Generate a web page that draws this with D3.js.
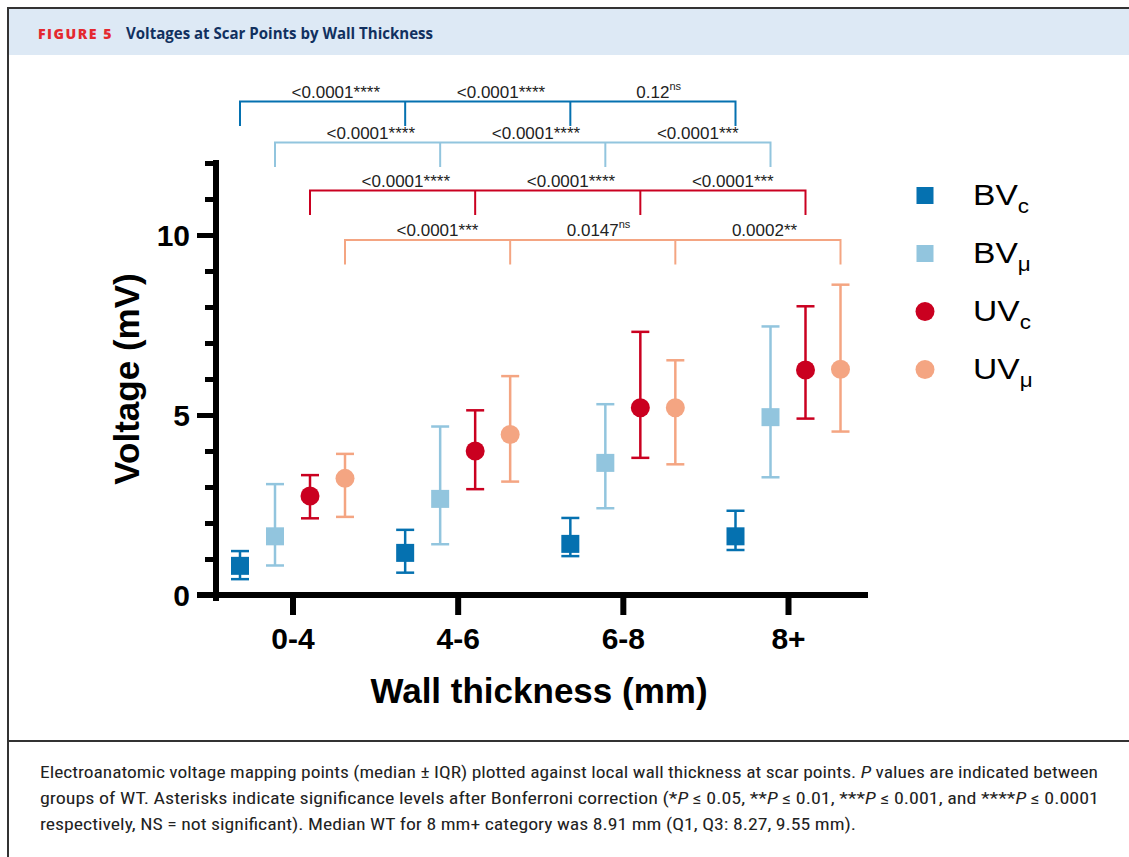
<!DOCTYPE html>
<html>
<head>
<meta charset="utf-8">
<script src="https://cdn.jsdelivr.net/npm/d3@7"></script>
<style>
  html, body { margin: 0; padding: 0; background: #fff; overflow: hidden; }
  svg { display: block; }
</style>
</head>
<body>
<svg id="chart" width="1129" height="857"></svg>
<script>
// ---------------- data ----------------
const categories = ["0-4", "4-6", "6-8", "8+"];
const seriesKeys = ["BVc", "BVu", "UVc", "UVu"];
const seriesMain = ["BV", "BV", "UV", "UV"];
const seriesSub = ["c", "μ", "c", "μ"];

const bvcMedian = [0.81, 1.17, 1.42, 1.63];
const bvcLow    = [0.44, 0.62, 1.08, 1.25];
const bvcHigh   = [1.22, 1.81, 2.14, 2.34];

const bvuMedian = [1.63, 2.67, 3.67, 4.94];
const bvuLow    = [0.82, 1.41, 2.41, 3.27];
const bvuHigh   = [3.08, 4.68, 5.30, 7.46];

const uvcMedian = [2.75, 4.00, 5.20, 6.25];
const uvcLow    = [2.13, 2.94, 3.81, 4.90];
const uvcHigh   = [3.33, 5.13, 7.31, 8.02];

const uvuMedian = [3.24, 4.46, 5.20, 6.27];
const uvuLow    = [2.17, 3.15, 3.63, 4.54];
const uvuHigh   = [3.92, 6.08, 6.52, 8.62];

// p-values between adjacent WT groups for each series
const bvcP = ["<0.0001", "<0.0001", "0.12"];
const bvcSig = ["****", "****", "ns"];
const bvuP = ["<0.0001", "<0.0001", "<0.0001"];
const bvuSig = ["****", "****", "***"];
const uvcP = ["<0.0001", "<0.0001", "<0.0001"];
const uvcSig = ["****", "****", "***"];
const uvuP = ["<0.0001", "0.0147", "0.0002"];
const uvuSig = ["***", "ns", "**"];

const yTickValues = d3.range(0, 13);
const yLabelledTicks = [0, 5, 10];

const titleLabel = "FIGURE 5";
const titleText = "Voltages at Scar Points by Wall Thickness";
const xTitle = "Wall thickness (mm)";
const yTitle = "Voltage (mV)";

// ---------------- styles / layout ----------------
const colors = ["#0571b0", "#92c5de", "#ca0020", "#f4a582"];
const shapes = ["square", "square", "circle", "circle"];
const bracketRows = [101.5, 142.5, 190.5, 240];   // pixel rows of the brackets
const bracketDrop = 24.5;
const FONT = "'Liberation Sans', Arial, sans-serif";

const series = seriesKeys.map((k, i) => ({
  key: k,
  color: colors[i],
  shape: shapes[i],
  median: [bvcMedian, bvuMedian, uvcMedian, uvuMedian][i],
  low: [bvcLow, bvuLow, uvcLow, uvuLow][i],
  high: [bvcHigh, bvuHigh, uvcHigh, uvuHigh][i],
  p: [bvcP, bvuP, uvcP, uvuP][i],
  sig: [bvcSig, bvuSig, uvcSig, uvuSig][i],
  row: bracketRows[i]
}));

const svg = d3.select("#chart");

// ---------------- frame & header ----------------
svg.append("rect").attr("x", 0).attr("y", 0).attr("width", 1129).attr("height", 857).attr("fill", "#fff");
svg.append("rect").attr("x", 9).attr("y", 9).attr("width", 1120).attr("height", 46)
  .attr("fill", "#dde9f5");
svg.append("line").attr("x1", 8).attr("x2", 1129).attr("y1", 8).attr("y2", 8)
  .attr("stroke", "#333").attr("stroke-width", 2);
svg.append("line").attr("x1", 8).attr("x2", 8).attr("y1", 7).attr("y2", 857)
  .attr("stroke", "#333").attr("stroke-width", 2);
svg.append("line").attr("x1", 8).attr("x2", 1129).attr("y1", 741).attr("y2", 741)
  .attr("stroke", "#333").attr("stroke-width", 2);

svg.append("text").attr("x", 38).attr("y", 39)
  .attr("font-family", "'Open Sans', 'Noto Sans', sans-serif").attr("font-weight", 800)
  .attr("font-size", 14).attr("letter-spacing", 1.5).attr("fill", "#e4282f")
  .attr("textLength", 75).attr("lengthAdjust", "spacingAndGlyphs")
  .text(titleLabel);
svg.append("text").attr("x", 126).attr("y", 39)
  .attr("font-family", "'Open Sans', 'Noto Sans', sans-serif").attr("font-weight", 700)
  .attr("font-size", 16.5).attr("fill", "#11305f")
  .attr("textLength", 307).attr("lengthAdjust", "spacingAndGlyphs")
  .text(titleText);

// ---------------- scales ----------------
const y = d3.scaleLinear().domain([0, 12]).range([595, 163]);
const x = d3.scalePoint().domain(categories).range([292.5, 788]);
const off = d3.scalePoint().domain(seriesKeys).range([-52.5, 52.5]);
const px = (s, ci) => x(categories[ci]) + off(s.key);

// ---------------- axes ----------------
const yAxis = d3.axisLeft(y).tickValues(yTickValues).tickSizeOuter(0).tickSizeInner(11)
  .tickFormat(d => yLabelledTicks.includes(d) ? d : "");
const gy = svg.append("g").attr("transform", "translate(216,0)").call(yAxis);
gy.select(".domain").attr("stroke", "#000").attr("stroke-width", 6)
  .attr("stroke-linecap", "square").attr("d", `M0,${y(0) + 3}V${y(12)}`);
gy.selectAll(".tick line").attr("stroke", "#000").attr("stroke-width", 5)
  .attr("x2", d => yLabelledTicks.includes(d) ? -19 : -11);
gy.selectAll(".tick text").attr("x", -26).attr("dy", "0.36em")
  .attr("font-family", FONT).attr("font-weight", 700).attr("font-size", 30).attr("fill", "#000");

const xAxis = d3.axisBottom(x).tickSizeOuter(0).tickSizeInner(20);
const gx = svg.append("g").attr("transform", `translate(0,${y(0)})`).call(xAxis);
gx.select(".domain").remove();
gx.selectAll(".tick line").attr("stroke", "#000").attr("stroke-width", 6);
gx.selectAll(".tick text").attr("y", 54).attr("dy", 0)
  .attr("font-family", FONT).attr("font-weight", 700).attr("font-size", 30).attr("fill", "#000");
svg.append("line").attr("x1", 197).attr("x2", 868).attr("y1", y(0)).attr("y2", y(0))
  .attr("stroke", "#000").attr("stroke-width", 6);

// axis titles
svg.append("text").attr("x", 539).attr("y", 703).attr("text-anchor", "middle")
  .attr("font-family", FONT).attr("font-weight", 700).attr("font-size", 35).attr("fill", "#000")
  .text(xTitle);
svg.append("text").attr("transform", "translate(139,379) rotate(-90)").attr("text-anchor", "middle")
  .attr("font-family", FONT).attr("font-weight", 700).attr("font-size", 35).attr("fill", "#000")
  .text(yTitle);

// ---------------- brackets ----------------
series.forEach(s => {
  const g = svg.append("g").attr("stroke", s.color).attr("stroke-width", 2).attr("fill", "none");
  const xs = categories.map((c, i) => px(s, i));
  g.append("path").attr("d",
    `M${xs[0]},${s.row + bracketDrop}V${s.row}H${xs[3]}V${s.row + bracketDrop}`);
  [1, 2].forEach(i => g.append("line").attr("x1", xs[i]).attr("x2", xs[i])
    .attr("y1", s.row).attr("y2", s.row + bracketDrop));
  s.p.forEach((pv, i) => {
    const mid = (xs[i] + xs[i + 1]) / 2;
    const t = svg.append("text").attr("y", s.row - 4)
      .attr("font-family", FONT).attr("font-size", 17).attr("fill", "#222");
    const main = t.append("tspan").text(pv);
    const w = main.node().getComputedTextLength();
    t.attr("x", mid - w / 2);
    if (s.sig[i] === "ns") {
      t.append("tspan").attr("font-size", 11).attr("dy", -8).text("ns");
    } else {
      t.append("tspan").text(s.sig[i]);
    }
  });
});

// ---------------- error bars & markers ----------------
series.forEach(s => {
  const g = svg.append("g");
  categories.forEach((c, i) => {
    const cx = px(s, i);
    g.append("line").attr("x1", cx).attr("x2", cx).attr("y1", y(s.low[i])).attr("y2", y(s.high[i]))
      .attr("stroke", s.color).attr("stroke-width", 2.5);
    [s.low[i], s.high[i]].forEach(v => g.append("line")
      .attr("x1", cx - 9).attr("x2", cx + 9).attr("y1", y(v)).attr("y2", y(v))
      .attr("stroke", s.color).attr("stroke-width", 2.5));
    if (s.shape === "square") {
      g.append("rect").attr("x", cx - 9).attr("y", y(s.median[i]) - 9)
        .attr("width", 18).attr("height", 18).attr("fill", s.color);
    } else {
      g.append("circle").attr("cx", cx).attr("cy", y(s.median[i])).attr("r", 9.5)
        .attr("fill", s.color);
    }
  });
});

// ---------------- legend ----------------
const legendY = d3.scalePoint().domain(seriesKeys).range([195.5, 369.5]);
series.forEach((s, i) => {
  const ly = legendY(s.key);
  if (s.shape === "square") {
    svg.append("rect").attr("x", 925 - 8.5).attr("y", ly - 8.5).attr("width", 17).attr("height", 17)
      .attr("fill", s.color);
  } else {
    svg.append("circle").attr("cx", 925).attr("cy", ly).attr("r", 9.5).attr("fill", s.color);
  }
  const t = svg.append("text").attr("transform", `translate(973,${ly + 9}) scale(1.12,1)`)
    .attr("font-family", FONT).attr("font-size", 30).attr("fill", "#000");
  t.append("tspan").text(seriesMain[i]);
  t.append("tspan").attr("font-size", 20).attr("dy", 8).text(seriesSub[i]);
});

// ---------------- caption ----------------
const capFont = "'Liberation Sans Narrow', 'Roboto Condensed', 'Noto Sans', sans-serif";
const capLines = [
  { y: 778, len: 1058, parts: [
    ["Electroanatomic voltage mapping points (median \u00b1 IQR) plotted against local wall thickness at scar points. ", false],
    ["P", true], [" values are indicated between", false]] },
  { y: 804, len: 1059, parts: [
    ["groups of WT. Asterisks indicate significance levels after Bonferroni correction (*", false], ["P", true],
    [" \u2264 0.05, **", false], ["P", true], [" \u2264 0.01, ***", false], ["P", true],
    [" \u2264 0.001, and ****", false], ["P", true], [" \u2264 0.0001", false]] },
  { y: 830, len: 816, parts: [
    ["respectively, NS = not significant). Median WT for 8 mm+ category was 8.91 mm (Q1, Q3: 8.27, 9.55 mm).", false]] }
];
capLines.forEach(l => {
  const t = svg.append("text").attr("x", 40).attr("y", l.y)
    .attr("font-family", capFont).attr("font-size", 16.5).attr("fill", "#222")
    .attr("textLength", l.len).attr("lengthAdjust", "spacingAndGlyphs");
  l.parts.forEach(p => t.append("tspan").attr("font-style", p[1] ? "italic" : "normal").text(p[0]));
});
</script>
</body>
</html>
